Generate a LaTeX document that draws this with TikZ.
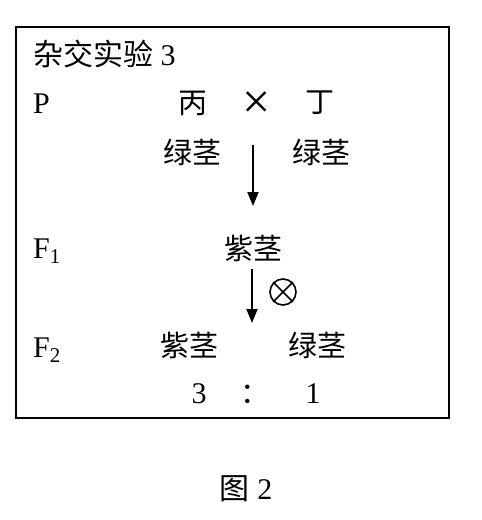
\documentclass[tikz,border=0pt]{standalone}
\usepackage{fontspec}
\setmainfont{Liberation Serif}
\newfontfamily\cjk{Noto Sans CJK SC}
\usetikzlibrary{arrows.meta}
\usetikzlibrary{positioning}

\begin{document}
\begin{tikzpicture}[
	x=1pt,y=-1pt,
	txt/.style={inner sep=0pt,font=\fontsize{30}{36}\selectfont},
	hanzi/.style={inner sep=0pt,font=\cjk\fontsize{29}{36}\selectfont},
	flow/.style={line width=2pt,-{Triangle[length=14pt,width=11pt]}}
]

	% frame
	\useasboundingbox (0,0) rectangle (482,520);
	\draw[line width=1.2pt] (16,27) rectangle (449,418);

	% define nodes
	\node[txt,anchor=base west] (title) at (33,65) {{\cjk 杂交实验} 3};
	\node[txt,anchor=base west] (P) at (33,113) {P};
	\node[txt,anchor=base west] (F1) at (33,258) {F\textsubscript{1}};
	\node[txt,anchor=base west] (F2) at (33,357) {F\textsubscript{2}};

	\node[hanzi] (bing) at (193,103) {丙};
	\node[inner sep=0pt,font=\fontsize{50}{60}\selectfont] (cross) at (257,105) {×};
	\node[hanzi] (ding) at (320,103) {丁};
	\node[hanzi] (bingStem) at (192,152) {绿茎};
	\node[hanzi] (dingStem) at (321,152) {绿茎};

	\node[hanzi] (f1Stem) at (253,248) {紫茎};

	\node[hanzi] (f2Purple) at (189,345) {紫茎};
	\node[hanzi] (f2Green) at (317,345) {绿茎};
	\node[txt,anchor=base] (ratioA) at (199,403) {3};
	\node[hanzi] (ratioSep) at (255,394) {：};
	\node[txt,anchor=base] (ratioB) at (313,403) {1};

	\node[txt] (caption) at (246,489) {{\cjk 图} 2};

	% selfing symbol
	\node[circle,draw,line width=1.6pt,minimum size=26pt,inner sep=0pt] (self) at (283,292) {};
	\draw[line width=1.6pt] (self.45) -- (self.225);
	\draw[line width=1.6pt] (self.135) -- (self.-45);

	% arrows
	\coordinate (pTop) at (253,145);
	\coordinate (pEnd) at (253,206);
	\coordinate (fTop) at (252,269);
	\coordinate (fEnd) at (252,323);
	\draw[flow] (pTop) -- (pEnd);
	\draw[flow] (fTop) -- (fEnd);

\end{tikzpicture}
\end{document}
